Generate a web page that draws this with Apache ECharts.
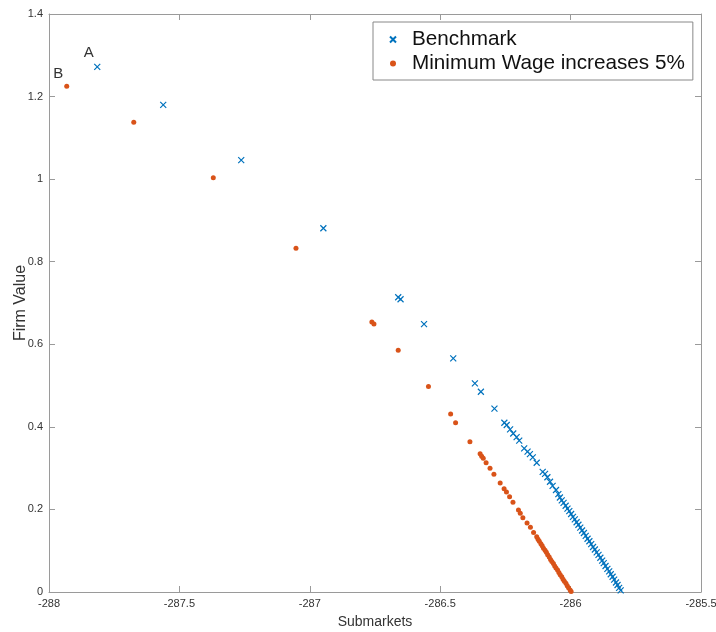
<!DOCTYPE html>
<html>
<head>
<meta charset="utf-8">
<script src="https://cdn.jsdelivr.net/npm/echarts@6/dist/echarts.min.js"></script>
<style>html,body{margin:0;padding:0;background:#fff}#c{width:716px;height:632px}</style>
</head>
<body>
<div id="c"></div>
<script>
var xTicks = [-288, -287.5, -287, -286.5, -286, -285.5];
var yTicks = [0, 0.2, 0.4, 0.6, 0.8, 1, 1.2, 1.4];

var benchX = [-287.815,-287.562,-287.263,-286.948,-286.661,-286.652,-286.562,-286.450,-286.367,-286.344,-286.292,
  -286.254,-286.245,-286.232,-286.220,-286.207,-286.197,-286.178,-286.165,-286.156,-286.145,-286.130,
  -286.107,-286.098,-286.089,-286.079,-286.069,-286.056,-286.047,-286.041,
  -286.034,-286.027,-286.019,-286.012,-286.005,-285.998,-285.991,-285.984,-285.977,-285.970,-285.963,-285.956,
  -285.949,-285.942,-285.935,-285.928,-285.921,-285.914,-285.907,-285.900,-285.893,-285.886,-285.879,-285.873,
  -285.866,-285.859,-285.852,-285.846,-285.839,-285.833,-285.826,-285.820,-285.814,-285.808];
var benchY = [1.272,1.180,1.046,0.881,0.714,0.709,0.649,0.566,0.5055,0.485,0.444,
  0.410,0.4045,0.394,0.384,0.375,0.3665,0.348,0.340,0.334,0.326,0.313,
  0.291,0.286,0.278,0.267,0.257,0.247,0.237,0.229,
  0.222,0.216,0.209,0.202,0.196,0.189,0.182,0.176,0.169,0.163,0.156,0.149,
  0.143,0.136,0.129,0.123,0.116,0.109,0.103,0.096,0.090,0.083,0.076,0.070,
  0.063,0.056,0.050,0.043,0.037,0.030,0.023,0.017,0.010,0.004];

var minWageX = [-287.932,-287.675,-287.370,-287.053,-286.762,-286.754,-286.661,-286.545,-286.460,-286.441,-286.386,
  -286.347,-286.341,-286.335,-286.324,-286.309,-286.294,-286.270,-286.255,-286.246,-286.234,-286.221,
  -286.200,-286.193,-286.183,-286.167,-286.154,-286.142,-286.130,
  -286.125,-286.120,-286.114,-286.109,-286.104,-286.098,-286.093,-286.088,-286.082,-286.077,-286.072,-286.066,
  -286.061,-286.056,-286.050,-286.045,-286.040,-286.034,-286.029,-286.024,-286.018,-286.013,-286.008,-286.002,-285.998];
var minWageY = [1.225,1.138,1.0035,0.8325,0.654,0.649,0.5854,0.4977,0.431,0.410,0.364,
  0.335,0.329,0.324,0.313,0.2996,0.2853,0.264,0.250,0.242,0.231,0.2175,
  0.1986,0.1906,0.1797,0.167,0.1567,0.144,0.134,
  0.128,0.123,0.117,0.112,0.106,0.101,0.096,0.090,0.085,0.079,0.074,0.069,
  0.063,0.058,0.053,0.047,0.042,0.037,0.031,0.026,0.021,0.015,0.010,0.005,0.001];

var seriesNames = ['Benchmark', 'Minimum Wage increases 5%'];
var pointLabels = ['A', 'B'];
var labelOffsets = [[5, -14], [4, -12]];

function pairs(xs, ys, lab, off) {
  return xs.map(function (x, i) {
    var d = { value: [x, ys[i]] };
    if (i === 0) {
      d.label = { show: true, formatter: lab, position: 'left', offset: off,
        fontSize: 15, color: '#333', fontFamily: 'Liberation Sans' };
    }
    return d;
  });
}

var axisCol = '#9a9a9a';
var labStyle = { fontSize: 11, color: '#333', fontFamily: 'Liberation Sans' };
function xA(show) {
  return {
    type: 'value', min: xTicks[0], max: xTicks[xTicks.length - 1], interval: 0.5,
    position: show ? 'bottom' : 'top',
    name: show ? 'Submarkets' : '', nameLocation: 'middle', nameGap: 23, nameMoveOverlap: false,
    nameTextStyle: { fontSize: 14, color: '#333', fontFamily: 'Liberation Sans' },
    axisLine: { show: true, onZero: false, lineStyle: { color: axisCol, width: 1 } },
    axisTick: { show: true, inside: true, length: 6, lineStyle: { color: axisCol } },
    axisLabel: Object.assign({ show: show, margin: 6 }, labStyle),
    splitLine: { show: false }
  };
}
function yA(show) {
  return {
    type: 'value', min: yTicks[0], max: yTicks[yTicks.length - 1], interval: 0.2,
    position: show ? 'left' : 'right',
    name: show ? 'Firm Value' : '', nameLocation: 'middle', nameGap: 20, nameMoveOverlap: false,
    nameTextStyle: { fontSize: 16, color: '#333', fontFamily: 'Liberation Sans' },
    axisLine: { show: true, onZero: false, lineStyle: { color: axisCol, width: 1 } },
    axisTick: { show: true, inside: true, length: 6, lineStyle: { color: axisCol } },
    axisLabel: Object.assign({ show: show, margin: 6,
      formatter: function (v) { return String(Math.round(v * 10) / 10); } }, labStyle),
    splitLine: { show: false }
  };
}

var chart = echarts.init(document.getElementById('c'), null, { renderer: 'canvas' });
var crossPath = 'path://M0,0L10,10M10,0L0,10';
chart.setOption({
  animation: false,
  backgroundColor: '#fff',
  grid: { left: 49, right: 15, top: 14, bottom: 40, containLabel: false, outerBoundsMode: 'none' },
  xAxis: [xA(true), xA(false)],
  yAxis: [yA(true), yA(false)],
  legend: {
    orient: 'vertical', left: 373, top: 22,
    padding: [7, 8, 6, 16], itemGap: 3, itemWidth: 6, itemHeight: 6,
    backgroundColor: '#fff', borderColor: '#888', borderWidth: 1, borderRadius: 0,
    textStyle: { fontSize: 20.7, color: '#111', fontFamily: 'Liberation Sans', padding: [0, 0, 0, 11] },
    data: [
      { name: seriesNames[0], icon: crossPath },
      { name: seriesNames[1], icon: 'circle' }
    ]
  },
  series: [
    {
      name: seriesNames[0], type: 'scatter', symbol: crossPath, symbolSize: 6,
      itemStyle: { color: '#0072BD', borderColor: '#0072BD', borderWidth: 1.2, opacity: 1 },
      data: pairs(benchX, benchY, pointLabels[0], labelOffsets[0])
    },
    {
      name: seriesNames[1], type: 'scatter', symbol: 'circle', symbolSize: 5,
      itemStyle: { color: '#D95319', opacity: 1 },
      data: pairs(minWageX, minWageY, pointLabels[1], labelOffsets[1])
    }
  ]
});
</script>
</body>
</html>
